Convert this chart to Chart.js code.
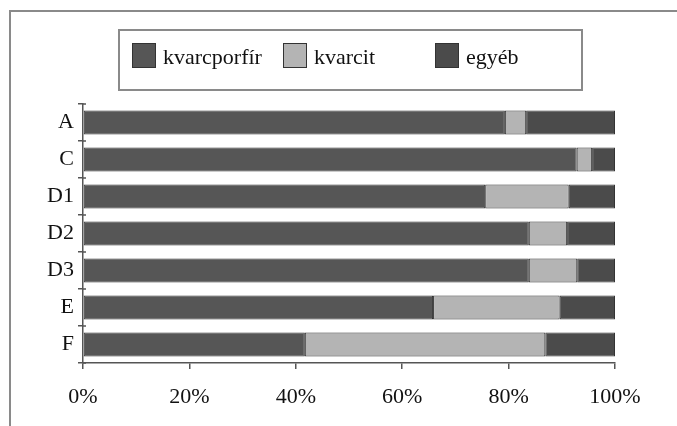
<!DOCTYPE html>
<html>
<head>
<meta charset="utf-8">
<script src="https://cdn.jsdelivr.net/npm/chart.js@4.4.0/dist/chart.umd.min.js"></script>
<style>
  body { margin: 0; background: #fff; }
  #wrap { position: relative; width: 677px; height: 426px; overflow: hidden; }
  #legend {
    position: absolute; left: 118px; top: 29px; width: 461px; height: 58px;
    border: 2px solid #8a8a8a;
    font-family: 'Liberation Serif', serif; font-size: 22px; color: #111;
  }
  #legend .item { position: absolute; top: 12px; height: 25px; white-space: nowrap; }
  #legend .swatch { position: absolute; left: 0; top: 0; width: 24px; height: 25px; box-sizing: border-box; border: 1px solid #333; }
  #legend .label { position: absolute; left: 31px; top: 3px; line-height: 22px; }
</style>
</head>
<body>
<div id="wrap">
  <canvas id="chart" width="677" height="426"></canvas>
  <div id="legend"></div>
</div>
<script>
// chart data
const categories = ['A', 'C', 'D1', 'D2', 'D3', 'E', 'F'];
const kvarcporfir = [79.3, 92.8, 75.6, 83.8, 83.8, 65.8, 41.7];
const kvarcit = [4.0, 2.9, 15.7, 7.2, 9.1, 23.8, 45.2];
const egyeb = [16.7, 4.3, 8.7, 9.0, 7.1, 10.4, 13.1];
const seriesNames = ['kvarcporfír', 'kvarcit', 'egyéb'];
const tickValues = [0, 20, 40, 60, 80, 100];

const serif = "'Liberation Serif', 'Times New Roman', serif";

// outer frame of the figure (cut off at right and bottom in the scan)
// plus the little tick stubs that poke into the plot on the category axis
const framePlugin = {
    id: 'frame',
    beforeDraw(chart) {
        const ctx = chart.ctx;
        ctx.save();
        ctx.strokeStyle = '#8a8a8a';
        ctx.lineWidth = 2;
        ctx.strokeRect(10, 11, 700, 500);
        ctx.restore();
    },
    afterDraw(chart) {
        const y = chart.scales.y;
        const ctx = chart.ctx;
        const n = categories.length;
        ctx.save();
        ctx.strokeStyle = '#555';
        ctx.lineWidth = 1.5;
        ctx.beginPath();
        for (let i = 0; i <= n; i++) {
            const py = y.top + i * (y.bottom - y.top) / n;
            ctx.moveTo(y.right, py);
            ctx.lineTo(y.right + 3, py);
        }
        ctx.stroke();
        ctx.restore();
    }
};

const makeSet = (label, data, color) => ({
    label: label,
    data: data,
    backgroundColor: color,
    borderColor: '#333',
    borderWidth: 1,
    borderSkipped: false,
    barPercentage: 0.65,
    categoryPercentage: 1.0,
});

const chart = new Chart(document.getElementById('chart'), {
    type: 'bar',
    data: {
        labels: categories,
        datasets: [
            makeSet(seriesNames[0], kvarcporfir, '#565656'),
            makeSet(seriesNames[1], kvarcit, '#b4b4b4'),
            makeSet(seriesNames[2], egyeb, '#4b4b4b'),
        ]
    },
    options: {
        indexAxis: 'y',
        responsive: false,
        animation: false,
        layout: { padding: { top: 104, left: 0, right: 62, bottom: 0 } },
        plugins: {
            legend: { display: false },
            tooltip: { enabled: false },
        },
        scales: {
            x: {
                stacked: true,
                min: 0,
                max: 100,
                afterBuildTicks: (scale) => { scale.ticks = tickValues.map(v => ({ value: v })); },
                afterFit: (scale) => { scale.height = 63; },
                ticks: {
                    callback: (v) => v + '%',
                    font: { family: serif, size: 22 },
                    color: '#111',
                    padding: 15,
                    maxRotation: 0,
                },
                grid: { drawOnChartArea: false, tickLength: 6, color: '#555', lineWidth: 1.5 },
                border: { color: '#555', width: 1.5 },
            },
            y: {
                stacked: true,
                afterFit: (scale) => { scale.width = 83; },
                ticks: {
                    font: { family: serif, size: 22 },
                    color: '#111',
                    padding: 4,
                },
                grid: { offset: true, drawOnChartArea: false, tickLength: 5, color: '#555', lineWidth: 1.5 },
                border: { color: '#555', width: 1.5 },
            }
        }
    },
    plugins: [framePlugin]
});

// legend as real text, laid out in equal slots like the original
const legendEl = document.getElementById('legend');
const slotLeft = [12, 163, 315];
chart.options.plugins.legend.labels.generateLabels(chart).forEach((item, i) => {
    const div = document.createElement('div');
    div.className = 'item';
    div.style.left = slotLeft[i] + 'px';
    const sw = document.createElement('span');
    sw.className = 'swatch';
    sw.style.background = item.fillStyle;
    const tx = document.createElement('span');
    tx.className = 'label';
    tx.textContent = item.text;
    div.appendChild(sw);
    div.appendChild(tx);
    legendEl.appendChild(div);
});
</script>
</body>
</html>
